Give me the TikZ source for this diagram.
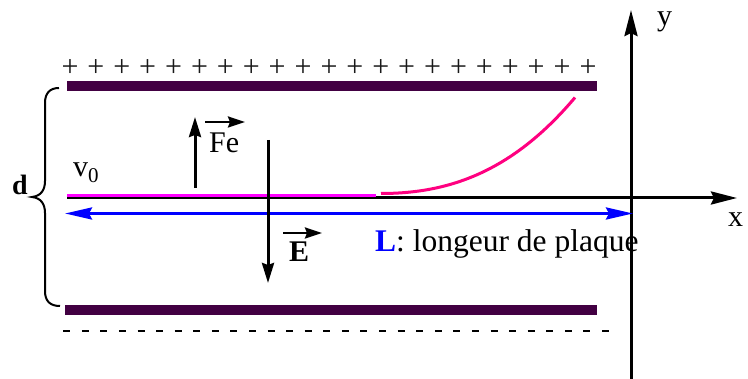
\documentclass[tikz,border=0pt]{standalone}
\usepackage{fontspec}
\setmainfont{Liberation Serif}
\newfontfamily\tms{Liberation Serif}
\usetikzlibrary{arrows.meta}
\definecolor{platecol}{HTML}{420042}
\definecolor{trajpink}{HTML}{FF0080}
\definecolor{magline}{HTML}{FF00FF}
\definecolor{bluel}{HTML}{0000FF}
\begin{document}
\begin{tikzpicture}[x=1pt,y=-1pt,
  lbl/.style={inner sep=0pt, font=\tms\fontsize{30}{36}\selectfont},
  plate/.style={fill=platecol},
  axis/.style={line width=3pt, -{Stealth[length=26pt,width=13pt,inset=3pt]}},
  vec/.style={line width=3pt, -{Stealth[length=20pt,width=12pt,inset=2pt]}},
  over/.style={line width=2.6pt, -{Stealth[length=17pt,width=11pt,inset=2pt]}},
  bluetip/.tip={Stealth[length=27pt,width=12pt,inset=3pt]},
  ]
\useasboundingbox (0,0) rectangle (748,379);
\fill[white] (0,0) rectangle (748,379);

% plates and charges
\fill[plate] (67,81) rectangle (597,91);
\fill[plate] (65,305) rectangle (597,315);
\foreach \i in {0,...,20} \node[lbl, text=black!90] (plus\i) at ({70+25.9*\i},68) {+};
\coordinate (dashS) at (63.2,331);
\coordinate (dashE) at (609.5,331);
\draw[line width=2pt, dash pattern=on 7pt off 11.58pt] (dashS) -- (dashE);

% brace
\draw[line width=2pt] (59,88) .. controls (50,88) and (45,93) .. (45,103) -- (45,181)
  .. controls (45,190) and (41,196) .. (32,197) .. controls (41,198) and (45,204) .. (45,213)
  -- (45,291) .. controls (45,301) and (50,306) .. (60,306);
\node[lbl, anchor=base west, font=\tms\bfseries\fontsize{28}{34}\selectfont] (d) at (12,195) {d};

% axes
\coordinate (xs) at (67,198);
\coordinate (xe) at (737,198);
\coordinate (ys) at (631,379);
\coordinate (ye) at (631,10);
\draw[axis] (xs) -- (xe);
\draw[axis] (ys) -- (ye);
\node[lbl, anchor=base west] (ylab) at (657,26) {y};
\node[lbl, anchor=base west] (xlab) at (728,227) {x};

% trajectory
\coordinate (p0) at (67,195.5);
\coordinate (p1) at (376,195.5);
\draw[magline, line width=3pt] (p0) -- (p1);
\coordinate (c0) at (381,193.5);
\coordinate (c3) at (575,97.5);
\draw[trajpink, line width=3pt] (c0) .. controls (445.7,193.5) and (510.3,174.3) .. (c3);
\node[lbl, anchor=base west] (v0) at (73,177) {v\raisebox{-6pt}{\fontsize{21}{21}\selectfont 0}};

% length L
\coordinate (la) at (65,213.5);
\coordinate (lb) at (633,213.5);
\draw[bluel, line width=3pt, bluetip-bluetip] (la) -- (lb);
\node[lbl, anchor=base west, font=\tms\fontsize{31.5}{36}\selectfont] (L) at (375,252) {\textcolor{bluel}{\bfseries L}: longeur de plaque};

% force
\coordinate (fa) at (195,188);
\coordinate (fb) at (195,117);
\draw[vec] (fa) -- (fb);
\node[lbl, anchor=base west] (fe) at (209,153) {Fe};
\coordinate (fva) at (205,122);
\coordinate (fvb) at (245,122);
\draw[over] (fva) -- (fvb);

% field
\coordinate (ea) at (268,140);
\coordinate (eb) at (268,283);
\draw[vec] (ea) -- (eb);
\node[lbl, anchor=base west] (E) at (289,262) {\bfseries E};
\coordinate (eva) at (283,233);
\coordinate (evb) at (322,233);
\draw[over] (eva) -- (evb);
\end{tikzpicture}
\end{document}
